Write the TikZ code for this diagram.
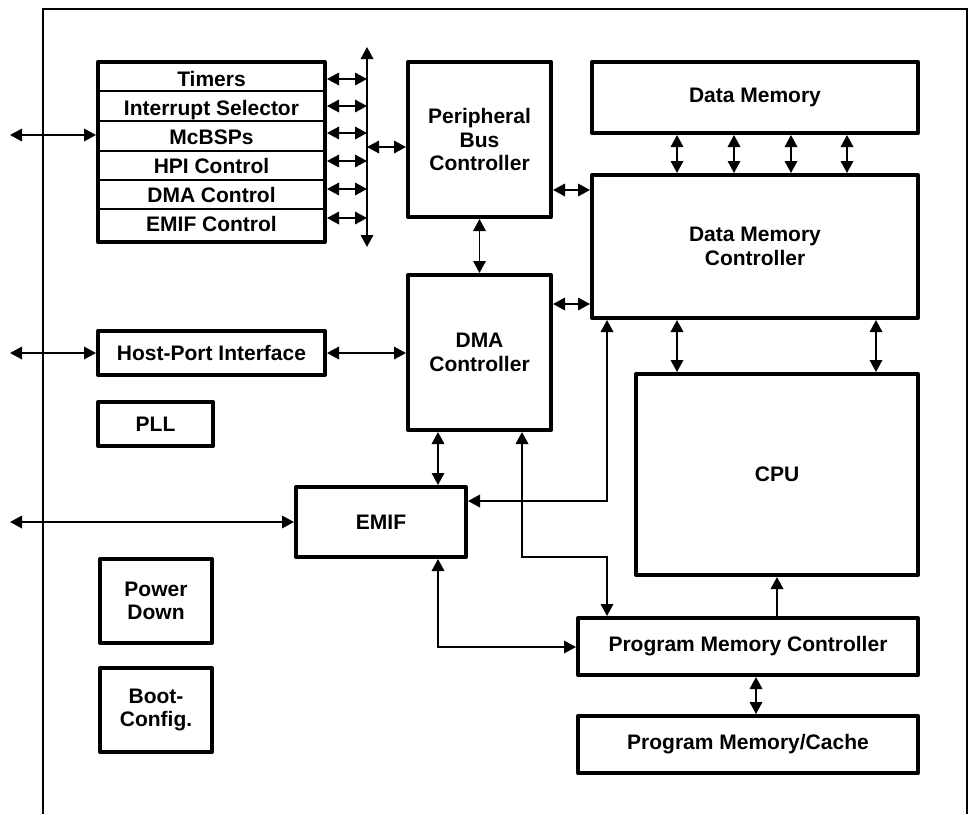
\documentclass[tikz,border=0pt]{standalone}
\usepackage{fontspec}
\setmainfont{Liberation Sans}
\usetikzlibrary{arrows.meta}
\begin{document}
\begin{tikzpicture}[x=1pt,y=-1pt,
  lbl/.style={font=\fontsize{21}{23.5}\selectfont\bfseries},
  box/.style={draw,line width=4pt,inner sep=0pt,align=center,line join=round,lbl},
  tip/.tip={Triangle[length=12pt,width=12.5pt]},
  conn/.style={line width=1.8pt,tip-tip},
  oneway/.style={line width=1.8pt,-tip},
  frame/.style={line width=2pt}]
\useasboundingbox (0,0) rectangle (968,814);
% outer frame
\draw[frame] (43,814) -- (43,9) -- (967,9) -- (967,814);
% boxes
\node[box,minimum width=227pt,minimum height=180pt] (periph) at (211.5,152) {};
\foreach \yy in {91,121,151,180,209}
  \draw[line width=1.8pt] (periph.west |- 0,\yy) -- (periph.east |- 0,\yy);
\node[lbl,anchor=base] (t1) at (211.5,86) {Timers};
\node[lbl,anchor=base] (t2) at (211.5,115) {Interrupt Selector};
\node[lbl,anchor=base] (t3) at (211.5,144) {McBSPs};
\node[lbl,anchor=base] (t4) at (211.5,173) {HPI Control};
\node[lbl,anchor=base] (t5) at (211.5,202) {DMA Control};
\node[lbl,anchor=base] (t6) at (211.5,231) {EMIF Control};
\node[box,minimum width=143pt,minimum height=155pt] (pbc) at (479.5,139.5) {Peripheral\\Bus\\Controller};
\node[box,minimum width=326pt,minimum height=71pt] (dm) at (755,97.5) {Data Memory};
\node[box,minimum width=326pt,minimum height=143pt] (dmc) at (755,246.5) {Data Memory\\Controller};
\node[box,minimum width=143pt,minimum height=155pt] (dma) at (479.5,352.5) {DMA\\Controller};
\node[box,minimum width=227pt,minimum height=44pt] (hpi) at (211.5,353) {Host-Port Interface};
\node[box,minimum width=115pt,minimum height=44pt] (pll) at (155.5,424) {PLL};
\node[box,minimum width=170pt,minimum height=70pt] (emif) at (381,522) {EMIF};
\node[box,minimum width=282pt,minimum height=201pt] (cpu) at (777,474.5) {CPU};
\node[box,minimum width=340pt,minimum height=57pt] (pmc) at (748,646.5) {Program Memory Controller};
\node[box,minimum width=340pt,minimum height=57pt] (pmcache) at (748,744.5) {Program Memory/Cache};
\node[box,minimum width=112pt,minimum height=84pt] (pwr) at (156,601) {Power\\Down};
\node[box,minimum width=112pt,minimum height=84pt] (boot) at (156,710) {Boot-\\Config.};
% peripheral bus
\coordinate (busT) at (367,47);
\coordinate (busB) at (367,247);
\draw[conn] (busT) -- (busB);
\foreach \yy in {79,106,133,161,189,218}
  \draw[conn] (periph.east |- 0,\yy) -- (busT |- 0,\yy);
\draw[conn] (busT |- 0,147) -- (pbc.west |- 0,147);
% external connections
\coordinate (ext1) at (10,135);
\coordinate (ext2) at (10,353);
\coordinate (ext3) at (10,522);
\draw[conn] (ext1) -- (periph.west |- ext1);
\draw[conn] (ext2) -- (hpi.west |- ext2);
\draw[conn] (ext3) -- (emif.west |- ext3);
% controllers
\draw[conn] (pbc.east |- 0,190) -- (dmc.west |- 0,190);
\draw[conn] (dma.east |- 0,304) -- (dmc.west |- 0,304);
\draw[conn] (pbc.south) -- (dma.north);
\draw[conn] (hpi.east) -- (dma.west |- hpi.east);
\foreach \xx in {677,734,791,847}
  \draw[conn] (dm.south -| \xx,0) -- (dmc.north -| \xx,0);
\foreach \xx in {677,876}
  \draw[conn] (dmc.south -| \xx,0) -- (cpu.north -| \xx,0);
\draw[oneway] (pmc.north -| 777,0) -- (cpu.south -| 777,0);
\draw[conn] (pmc.south -| 756,0) -- (pmcache.north -| 756,0);
\draw[conn] (dma.south -| 438,0) -- (emif.north -| 438,0);
\draw[conn] (dmc.south -| 607,0) -- (607,501) -- (emif.east |- 0,501);
\draw[conn] (dma.south -| 522,0) -- (522,557) -- (607,557) -- (pmc.north -| 607,0);
\draw[conn] (emif.south -| 438,0) -- (438,647) -- (pmc.west |- 0,647);
\end{tikzpicture}
\end{document}
